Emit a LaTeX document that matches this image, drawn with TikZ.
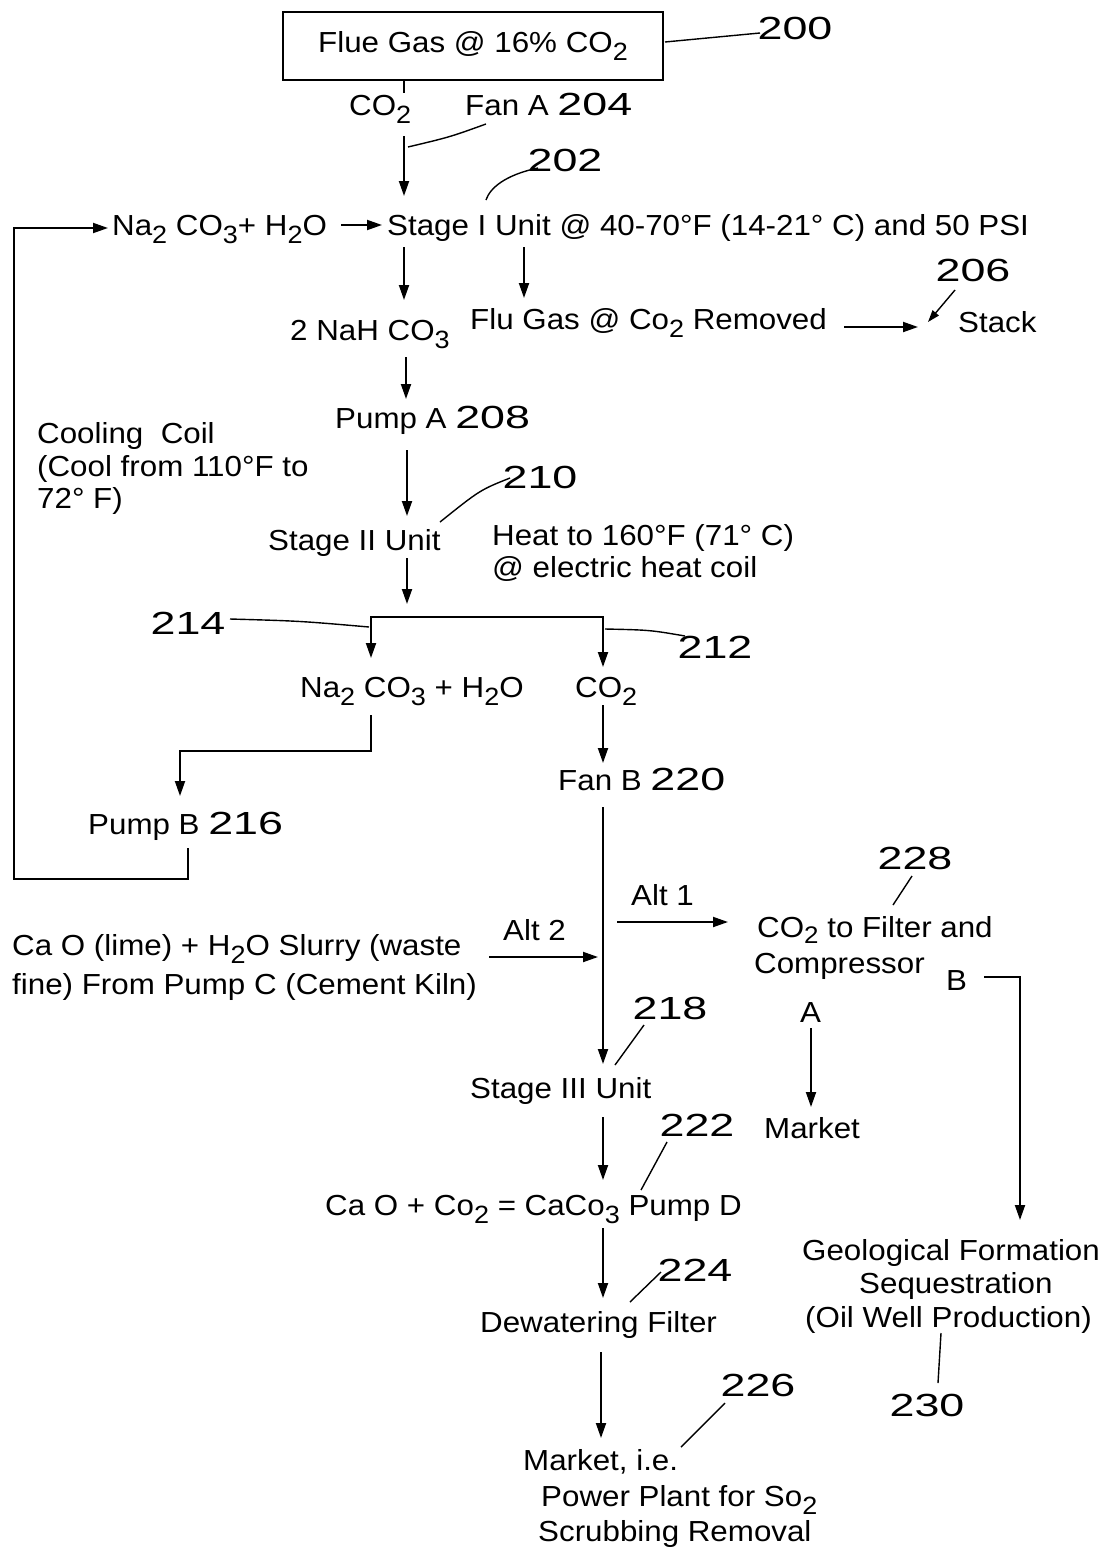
\documentclass[tikz,border=0pt]{standalone}
\usepackage{fontspec}
\setmainfont{Liberation Sans}[FakeStretch=1.08]
\newfontfamily\numfam{Liberation Sans}[FakeStretch=1.4]
\usetikzlibrary{arrows.meta}
\newcommand\sbs[1]{\raisebox{-8pt}{\fontsize{25}{25}\selectfont #1}}
\newcommand\sbsh[1]{\raisebox{-6pt}{\fontsize{24}{24}\selectfont #1}}
\newcommand\nm[1]{{\numfam\fontsize{32}{32}\selectfont #1}}
\begin{document}
\begin{tikzpicture}[x=1pt,y=-1pt,
  txt/.style={anchor=base west, inner sep=0pt, font=\fontsize{29}{33}\selectfont},
  num/.style={inner sep=0pt, font=\numfam\fontsize{32}{32}\selectfont},
  arr/.style={line width=1.9pt, -{Triangle[length=15pt,width=10pt]}},
  ln/.style={line width=1.9pt},
  lead/.style={line width=1.4pt}]
\useasboundingbox (0,0) rectangle (1106,1550);
\fill[white] (0,0) rectangle (1106,1550);

% nodes
\node[draw, line width=2.4pt, minimum width=380pt, minimum height=68pt, inner sep=0pt,
      font=\fontsize{29}{33}\selectfont] (flue) at (473,46) {Flue Gas @ 16\% CO\sbs{2}};
\node[num] (n200) at (795,28) {200};
\node[txt] (co2a) at (349,115) {CO\sbs{2}};
\node[txt] (fana) at (465,115) {Fan A \nm{204}};
\node[num] (n202) at (565,160) {202};
\node[txt] (naco) at (112,235) {Na\sbs{2} CO\sbs{3}+ H\sbs{2}O};
\node[txt] (st1) at (387,235) {Stage I Unit @ 40-70°F (14-21° C) and 50 PSI};
\node[txt] (nahco) at (290,340) {2 NaH CO\sbs{3}};
\node[txt] (flu) at (470,329) {Flu Gas @ Co\sbs{2} Removed};
\node[txt] (stack) at (958,332) {Stack};
\node[num] (n206) at (973,270) {206};
\node[txt] (pumpa) at (335,428) {Pump A \nm{208}};
\node[txt] (cool1) at (37,443) {Cooling\ \ Coil};
\node[txt] (cool2) at (37,476) {(Cool from 110°F to};
\node[txt] (cool3) at (37,508) {72° F)};
\node[num] (n210) at (540,477) {210};
\node[txt] (st2) at (268,550) {Stage II Unit};
\node[txt] (heat1) at (492,545) {Heat to 160°F (71° C)};
\node[txt] (heat2) at (492,577) {@ electric heat coil};
\node[num] (n214) at (188,623) {214};
\node[num] (n212) at (715,647) {212};
\node[txt] (naco2) at (300,697) {Na\sbs{2} CO\sbs{3} + H\sbs{2}O};
\node[txt] (co2b) at (575,697) {CO\sbs{2}};
\node[txt] (fanb) at (558,790) {Fan B \nm{220}};
\node[txt] (pumpb) at (88,834) {Pump B \nm{216}};
\node[num] (n228) at (915,858) {228};
\node[txt] (alt1) at (631,905) {Alt 1};
\node[txt] (alt2) at (503,940) {Alt 2};
\node[txt] (cao1) at (12,955) {Ca O (lime) + H\sbs{2}O Slurry (waste};
\node[txt] (cao2) at (12,994) {fine) From Pump C (Cement Kiln)};
\node[txt] (filt1) at (757,937) {CO\sbsh{2} to Filter and};
\node[txt] (filt2) at (754,973) {Compressor};
\node[txt] (B) at (946,990) {B};
\node[txt] (A) at (800,1022) {A};
\node[num] (n218) at (670,1008) {218};
\node[txt] (st3) at (470,1098) {Stage III Unit};
\node[txt] (mkt1) at (764,1138) {Market};
\node[num] (n222) at (697,1125) {222};
\node[txt] (caco) at (325,1215) {Ca O + Co\sbs{2} = CaCo\sbs{3} Pump D};
\node[num] (n224) at (695,1270) {224};
\node[txt] (dew) at (480,1332) {Dewatering Filter};
\node[txt] (geo1) at (802,1260) {Geological Formation};
\node[txt] (geo2) at (859,1293) {Sequestration};
\node[txt] (geo3) at (805,1327) {(Oil Well Production)};
\node[num] (n230) at (927,1405) {230};
\node[num] (n226) at (758,1385) {226};
\node[txt] (mk1) at (523,1470) {Market, i.e.};
\node[txt] (mk2) at (541,1506) {Power Plant for So\sbs{2}};
\node[txt] (mk3) at (538,1541) {Scrubbing Removal};

% connectors
\draw[ln] (404,80) -- (404,93);
\draw[arr] (404,136) -- (404,196);
\draw[arr] (341,225) -- (382,225);
\draw[arr] (188,848) -- (188,879) -- (14,879) -- (14,228) -- (108,228);
\draw[arr] (404,247) -- (404,300);
\draw[arr] (524,247) -- (524,298);
\draw[arr] (844,327) -- (918,327);
\draw[arr] (406,357) -- (406,399);
\draw[arr] (407,450) -- (407,516);
\draw[arr] (407,558) -- (407,604);
\draw[ln] (371,617) -- (603,617);
\draw[arr] (371,616) -- (371,658);
\draw[arr] (603,616) -- (603,667);
\draw[arr] (371,715) -- (371,751) -- (180,751) -- (180,796);
\draw[arr] (603,705) -- (603,763);
\draw[arr] (603,807) -- (603,1064);
\draw[arr] (617,922) -- (728,922);
\draw[arr] (489,957) -- (598,957);
\draw[arr] (984,977) -- (1020,977) -- (1020,1220);
\draw[arr] (811,1028) -- (811,1107);
\draw[arr] (603,1117) -- (603,1180);
\draw[arr] (603,1228) -- (603,1298);
\draw[arr] (601,1352) -- (601,1438);

% leaders
\draw[lead] (665,42) -- (760,33);
\draw[lead] (486,124) .. controls (450,137) .. (408,147);
\draw[lead] (538,168) .. controls (505,175) and (490,188) .. (486,200);
\draw[line width=1.4pt, -{Triangle[length=12pt,width=8pt]}] (955,290) -- (928,322);
\draw[lead] (510,478) .. controls (480,490) .. (440,522);
\draw[lead] (230,619) .. controls (300,621) .. (369,627);
\draw[lead] (605,629) .. controls (650,630) .. (685,636);
\draw[lead] (912,876) -- (893,905);
\draw[lead] (644,1025) -- (615,1065);
\draw[lead] (667,1142) -- (641,1190);
\draw[lead] (661,1272) -- (630,1302);
\draw[lead] (725,1403) -- (681,1447);
\draw[lead] (941,1333) -- (938,1383);
\end{tikzpicture}
\end{document}
